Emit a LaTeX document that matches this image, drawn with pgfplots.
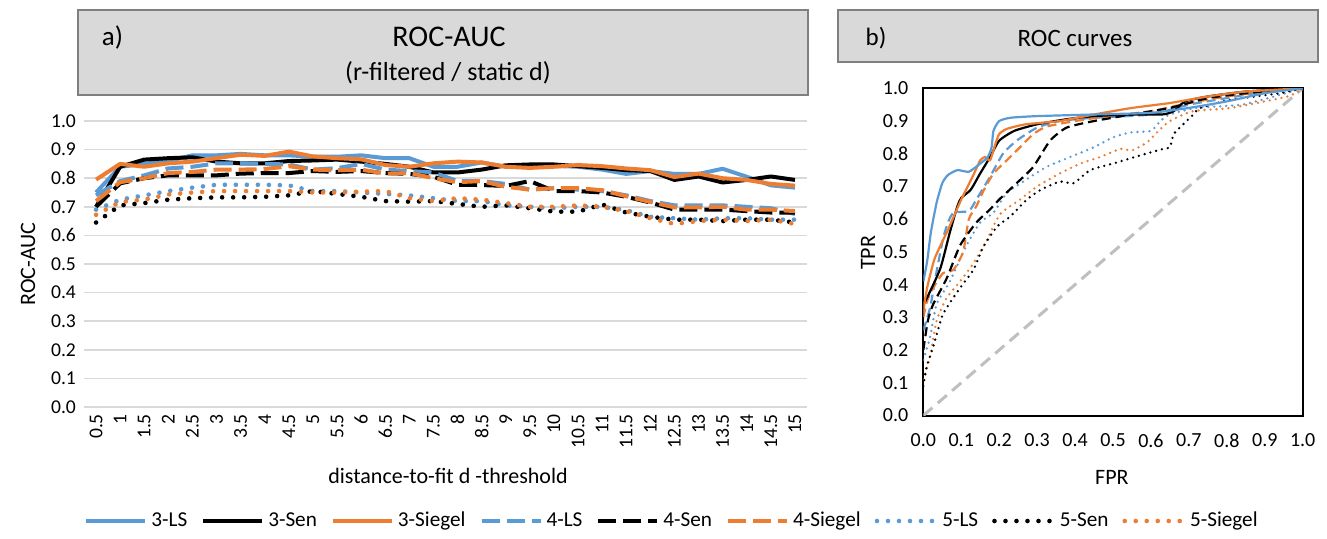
\documentclass[border=0pt]{standalone}
\usepackage{fontspec}
\setmainfont{Carlito}
\usepackage{pgfplots}
\usepackage{pgfplotstable}
\pgfplotsset{compat=1.18}
\definecolor{cblue}{HTML}{5B9BD5}
\definecolor{corange}{HTML}{ED7D31}
\definecolor{gridg}{HTML}{D9D9D9}
\definecolor{boxfill}{HTML}{D9D9D9}
\definecolor{boxdraw}{HTML}{7F7F7F}
\definecolor{diag}{HTML}{BFBFBF}
\newcommand\fs[1]{\fontsize{#1}{#1}\selectfont}

% left chart: index 0..29 = d 0.5..15
\pgfplotstableread{
i  LS3   Sen3  Sie3  LS4   Sen4  Sie4  LS5   Sen5  Sie5
0  0.750 0.700 0.795 0.740 0.700 0.720 0.690 0.645 0.672
1  0.840 0.840 0.850 0.790 0.782 0.786 0.725 0.705 0.717
2  0.850 0.865 0.840 0.810 0.800 0.800 0.740 0.713 0.725
3  0.860 0.870 0.852 0.834 0.810 0.818 0.755 0.725 0.743
4  0.880 0.873 0.858 0.840 0.810 0.822 0.767 0.730 0.750
5  0.880 0.858 0.870 0.852 0.810 0.830 0.777 0.733 0.755
6  0.885 0.852 0.882 0.852 0.816 0.830 0.777 0.733 0.755
7  0.880 0.852 0.878 0.850 0.818 0.832 0.777 0.735 0.755
8  0.880 0.860 0.893 0.848 0.818 0.842 0.775 0.740 0.755
9  0.875 0.862 0.876 0.830 0.825 0.830 0.755 0.755 0.750
10 0.875 0.865 0.870 0.835 0.822 0.828 0.755 0.745 0.750
11 0.880 0.858 0.866 0.850 0.825 0.830 0.750 0.735 0.753
12 0.870 0.850 0.846 0.830 0.818 0.816 0.745 0.720 0.755
13 0.870 0.840 0.840 0.825 0.815 0.818 0.740 0.718 0.730
14 0.840 0.820 0.852 0.820 0.805 0.800 0.730 0.720 0.720
15 0.840 0.820 0.858 0.790 0.777 0.786 0.720 0.710 0.730
16 0.855 0.830 0.855 0.790 0.776 0.790 0.720 0.700 0.725
17 0.840 0.845 0.840 0.780 0.773 0.770 0.705 0.705 0.713
18 0.840 0.848 0.836 0.760 0.790 0.760 0.700 0.695 0.700
19 0.843 0.848 0.840 0.765 0.755 0.765 0.695 0.683 0.700
20 0.840 0.842 0.846 0.760 0.755 0.765 0.700 0.683 0.705
21 0.830 0.836 0.842 0.755 0.750 0.758 0.700 0.708 0.700
22 0.815 0.828 0.834 0.740 0.735 0.737 0.688 0.680 0.685
23 0.825 0.825 0.828 0.720 0.715 0.717 0.665 0.665 0.660
24 0.815 0.794 0.804 0.705 0.690 0.698 0.660 0.655 0.640
25 0.815 0.806 0.816 0.705 0.690 0.698 0.655 0.655 0.650
26 0.833 0.785 0.800 0.705 0.690 0.700 0.660 0.650 0.655
27 0.805 0.794 0.794 0.700 0.685 0.690 0.660 0.655 0.650
28 0.775 0.806 0.780 0.695 0.680 0.690 0.655 0.655 0.655
29 0.767 0.794 0.774 0.675 0.680 0.685 0.655 0.645 0.640
}\auctable

\pgfplotsset{
  lsolid/.style={line width=2pt, line join=round},
  ldash/.style={line width=2pt, dash pattern=on 9pt off 3.5pt},
  ldot/.style={line width=2.3pt, line cap=round, dash pattern=on 0pt off 5.5pt},
  rsolid/.style={line width=1.1pt, smooth, tension=0.35},
  rdash/.style={line width=1.1pt, dash pattern=on 4.5pt off 2.5pt, smooth, tension=0.35},
  rdot/.style={line width=1.3pt, line cap=round, dash pattern=on 0pt off 3pt, smooth, tension=0.35},
}

\begin{document}
\begin{tikzpicture}
\path[fill=white] (0pt,0pt) rectangle (663.5pt,-269.5pt);

% title boxes
\draw[boxdraw, fill=boxfill, line width=0.75pt] (39pt,-5pt) rectangle (404pt,-47.5pt);
\node[font=\fs{13.5}] at (56.25pt,-19pt) {a)};
\node[font=\fs{15}] at (224.5pt,-18.3pt) {ROC-AUC};
\node[font=\fs{13}] at (224pt,-36.3pt) {(r-filtered / static d)};
\draw[boxdraw, fill=boxfill, line width=0.75pt] (419pt,-5pt) rectangle (659pt,-31pt);
\node[font=\fs{12.5}] at (438pt,-19pt) {b)};
\node[font=\fs{12.5}] at (537.5pt,-19pt) {ROC curves};

\begin{axis}[
  at={(42pt,-203.5pt)}, anchor=south west, scale only axis,
  width=361.5pt, height=143pt,
  xmin=-0.5, xmax=29.5, ymin=0, ymax=1,
  axis line style={draw=none}, major tick length=0pt,
  ymajorgrids, grid style={gridg, line width=0.8pt},
  xtick={0,...,29},
  xticklabels={0.5,1,1.5,2,2.5,3,3.5,4,4.5,5,5.5,6,6.5,7,7.5,8,8.5,9,9.5,10,10.5,11,11.5,12,12.5,13,13.5,14,14.5,15},
  x tick label style={rotate=90, anchor=east},
  ytick={0,0.1,0.2,0.3,0.4,0.5,0.6,0.7,0.8,0.9,1.0},
  /pgf/number format/fixed, /pgf/number format/fixed zerofill, /pgf/number format/precision=1,
  /pgf/number format/assume math mode=true,
  yticklabel shift=0.5pt,
  tick label style={font=\fs{9.8}},
  ylabel={ROC-AUC}, xlabel={distance-to-fit d -threshold},
  label style={font=\fs{11}},
  ylabel style={at={(axis description cs:-0.0775,0.5)}, anchor=center},
  xlabel style={at={(axis description cs:0.5035,-0.241)}, anchor=center},
  legend columns=9,
  legend style={at={(axis description cs:0.8147,-0.3986)}, anchor=center, draw=none, fill=none, font=\fs{10.6},
    /tikz/every even column/.append style={column sep=5pt}},
  legend image code/.code={\draw[#1] (0pt,0pt) -- (29.5pt,0pt);},
  clip=false,
]
\addplot[cblue, lsolid] table[x=i, y=LS3] {\auctable};
\addlegendentry{3-LS}
\addplot[black, lsolid] table[x=i, y=Sen3] {\auctable};
\addlegendentry{3-Sen}
\addplot[corange, lsolid] table[x=i, y=Sie3] {\auctable};
\addlegendentry{3-Siegel}
\addplot[cblue, ldash] table[x=i, y=LS4] {\auctable};
\addlegendentry{4-LS}
\addplot[black, ldash] table[x=i, y=Sen4] {\auctable};
\addlegendentry{4-Sen}
\addplot[corange, ldash] table[x=i, y=Sie4] {\auctable};
\addlegendentry{4-Siegel}
\addplot[cblue, ldot] table[x=i, y=LS5] {\auctable};
\addlegendentry{5-LS}
\addplot[black, ldot] table[x=i, y=Sen5] {\auctable};
\addlegendentry{5-Sen}
\addplot[corange, ldot] table[x=i, y=Sie5] {\auctable};
\addlegendentry{5-Siegel}
\end{axis}

\begin{axis}[
  at={(461.65pt,-207.75pt)}, anchor=south west, scale only axis,
  width=189.7pt, height=163.6pt,
  xmin=0, xmax=1, ymin=0, ymax=1,
  axis line style={black, line width=1pt}, major tick length=0pt,
  xtick={0,0.1,0.2,0.3,0.4,0.5,0.6,0.7,0.8,0.9,1.0},
  ytick={0,0.1,0.2,0.3,0.4,0.5,0.6,0.7,0.8,0.9,1.0},
  /pgf/number format/fixed, /pgf/number format/fixed zerofill, /pgf/number format/precision=1,
  /pgf/number format/assume math mode=true,
  tick label style={font=\fs{10}},
  xticklabel shift=5.5pt, yticklabel shift=4pt,
  ylabel={TPR}, xlabel={FPR},
  label style={font=\fs{11}},
  ylabel style={at={(axis description cs:-0.1458,0.497)}, anchor=center},
  xlabel style={at={(axis description cs:0.497,-0.188)}, anchor=center},
]
\addplot[diag, line width=1.5pt, dash pattern=on 6pt off 3.5pt] coordinates {(0,0) (1,1)};
\addplot[cblue, rdot] coordinates {(0,0.17) (0.018,0.24) (0.035,0.34) (0.07,0.41) (0.114,0.52) (0.15,0.59) (0.185,0.62) (0.22,0.68) (0.27,0.72) (0.325,0.76) (0.387,0.79) (0.45,0.82) (0.5,0.85) (0.545,0.865) (0.6,0.87) (0.625,0.90) (0.65,0.92) (0.72,0.94) (0.84,0.95) (0.94,0.98) (1,1)};
\addplot[corange, rdot] coordinates {(0,0.11) (0.018,0.18) (0.035,0.29) (0.062,0.36) (0.097,0.41) (0.132,0.465) (0.167,0.535) (0.202,0.615) (0.255,0.66) (0.3,0.70) (0.36,0.74) (0.414,0.77) (0.466,0.79) (0.52,0.815) (0.55,0.81) (0.59,0.835) (0.62,0.87) (0.65,0.90) (0.71,0.93) (0.81,0.94) (0.96,0.975) (1,1)};
\addplot[black, rdot] coordinates {(0,0.09) (0.009,0.15) (0.026,0.21) (0.052,0.31) (0.097,0.39) (0.132,0.445) (0.158,0.515) (0.194,0.577) (0.229,0.608) (0.273,0.66) (0.31,0.69) (0.36,0.715) (0.396,0.71) (0.44,0.75) (0.5,0.77) (0.572,0.795) (0.633,0.815) (0.65,0.82) (0.66,0.86) (0.685,0.89) (0.712,0.92) (0.73,0.94) (0.81,0.965) (0.94,0.985) (1,1)};
\addplot[cblue, rdash] coordinates {(0,0.26) (0.018,0.33) (0.035,0.44) (0.052,0.54) (0.065,0.59) (0.08,0.62) (0.12,0.625) (0.14,0.66) (0.176,0.73) (0.21,0.80) (0.246,0.84) (0.3,0.88) (0.36,0.9) (0.45,0.91) (0.6,0.92) (0.7,0.95) (0.8,0.97) (0.9,0.99) (1,1)};
\addplot[corange, rdash] coordinates {(0,0.30) (0.01,0.35) (0.026,0.39) (0.052,0.435) (0.079,0.445) (0.105,0.50) (0.12,0.60) (0.14,0.64) (0.16,0.69) (0.185,0.74) (0.22,0.78) (0.255,0.82) (0.29,0.86) (0.325,0.883) (0.4,0.9) (0.49,0.915) (0.6,0.93) (0.7,0.955) (0.8,0.975) (0.9,0.99) (1,1)};
\addplot[black, rdash] coordinates {(0,0.2) (0.012,0.29) (0.026,0.34) (0.062,0.42) (0.097,0.52) (0.14,0.59) (0.176,0.63) (0.2,0.66) (0.246,0.71) (0.29,0.76) (0.334,0.84) (0.378,0.88) (0.45,0.90) (0.55,0.92) (0.65,0.94) (0.75,0.97) (0.85,0.985) (1,1)};
\addplot[black, rsolid] coordinates {(0,0.34) (0.01,0.36) (0.045,0.45) (0.07,0.56) (0.09,0.64) (0.1,0.665) (0.125,0.69) (0.15,0.74) (0.176,0.79) (0.2,0.84) (0.24,0.87) (0.3,0.89) (0.375,0.905) (0.45,0.915) (0.55,0.92) (0.63,0.92) (0.66,0.93) (0.69,0.96) (0.75,0.975) (0.85,0.99) (1,1)};
\addplot[corange, rsolid] coordinates {(0,0.32) (0.01,0.39) (0.03,0.48) (0.066,0.57) (0.1,0.66) (0.13,0.73) (0.15,0.78) (0.163,0.79) (0.176,0.78) (0.19,0.83) (0.2,0.86) (0.22,0.876) (0.27,0.89) (0.36,0.9) (0.45,0.92) (0.55,0.94) (0.65,0.955) (0.75,0.975) (0.85,0.99) (1,1)};
\addplot[cblue, rsolid] coordinates {(0,0.41) (0.01,0.47) (0.02,0.56) (0.035,0.65) (0.05,0.71) (0.065,0.735) (0.09,0.75) (0.12,0.745) (0.15,0.77) (0.17,0.79) (0.18,0.82) (0.185,0.87) (0.2,0.9) (0.23,0.91) (0.3,0.915) (0.45,0.92) (0.6,0.925) (0.7,0.94) (0.8,0.96) (0.9,0.985) (1,1)};
\end{axis}
\end{tikzpicture}
\end{document}
